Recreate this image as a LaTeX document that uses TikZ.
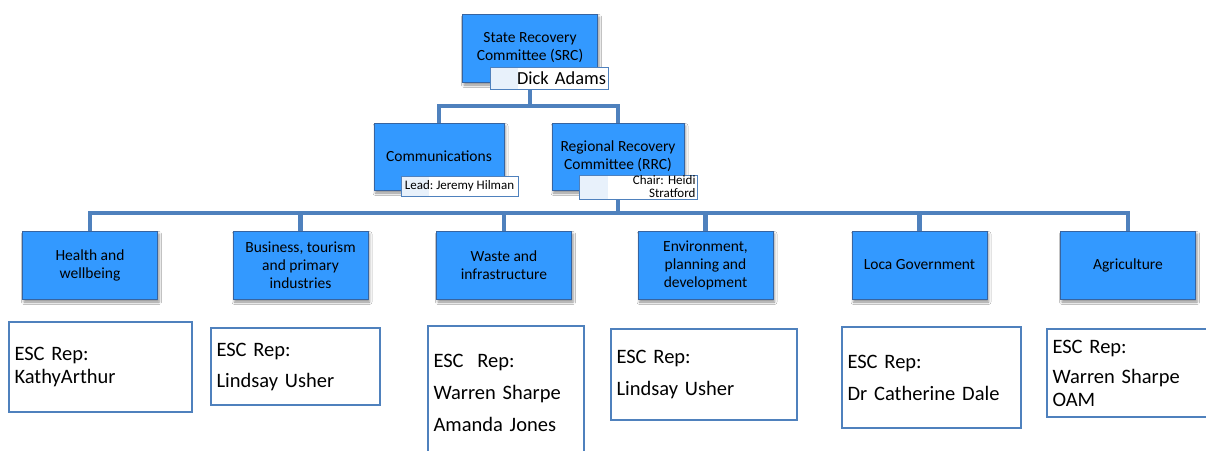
\documentclass[tikz,border=0pt]{standalone}
\usepackage{fontspec}
\setmainfont{Carlito}
\usepackage{tikz}
\usetikzlibrary{shadows.blur}
\usetikzlibrary{backgrounds}
\definecolor{boxblue}{RGB}{51,153,255}
\definecolor{edgeblue}{RGB}{55,100,160}
\definecolor{linkblue}{RGB}{79,129,189}
\definecolor{tintblue}{RGB}{232,241,251}
\tikzset{
    group/.style={rectangle, fill=boxblue, draw=edgeblue, line width=0.8pt,
        minimum width=135pt, minimum height=68pt, align=center,
        font=\fontsize{15.5}{18}\selectfont,
        blur shadow={shadow xshift=1.5pt, shadow yshift=-3pt, shadow blur radius=2.5pt, shadow opacity=45}},
    lead/.style={rectangle, draw=linkblue, line width=0.8pt, fill=white,
        path picture={\fill[tintblue] (path picture bounding box.south west) rectangle ([xshift=28pt]path picture bounding box.north west);},
        inner ysep=0pt, inner xsep=2pt},
    rep/.style={rectangle, draw=linkblue, line width=1.5pt, inner xsep=5.5pt, inner ysep=0pt,
        align=left, font=\fontsize{20.5}{23}\selectfont},
    link/.style={draw=linkblue, line width=4.5pt}}

\begin{document}
\frenchspacing
\begin{tikzpicture}[x=1pt, y=-1pt]

            \useasboundingbox (0,0) rectangle (1206,450);
            \clip (0,0) rectangle (1206,450);

            \node[group] (src) at (530,48) {State Recovery\\Committee (SRC)};
            \node[lead, minimum height=22pt, text width=114pt, align=right, font=\fontsize{18.4}{20}\selectfont] (srclead) at (549,78) {Dick Adams};

            \node[group, minimum width=130pt, minimum height=67pt] (comms) at (439,156.5) {Communications};
            \node[lead, minimum height=20pt, minimum width=117pt, inner xsep=1pt, font=\fontsize{13}{15}\selectfont] (commslead) at (459.5,186) {Lead: Jeremy Hilman};
            \node[group, minimum width=132pt, minimum height=67pt] (rrc) at (618,156.5) {Regional Recovery\\Committee (RRC)};
            \node[lead, minimum height=24pt, text width=114pt, align=right, font=\fontsize{13}{13}\selectfont] (rrclead) at (638.5,187) {Chair: Heidi\\Stratford};

            \coordinate (srchub) at (530,106);
            \coordinate (rrchub) at (618,213);

            \node[group] (health) at (90,265) {Health and\\wellbeing};
            \node[group] (business) at (300.5,265) {Business, tourism\\and primary\\industries};
            \node[group] (waste) at (504,265) {Waste and\\infrastructure};
            \node[group] (environ) at (705.5,265) {Environment,\\planning and\\development};
            \node[group] (localgov) at (919.5,265) {Loca Government};
            \node[group] (agri) at (1128,265) {Agriculture};

            \node[rep, text width=172pt, minimum height=90pt] (healthrep) at (100.5,367) {ESC Rep:\\KathyArthur};
            \node[rep, text width=158pt, minimum height=77pt] (businessrep) at (295.5,366.5) {ESC Rep:\\[8pt]Lindsay Usher};
            \node[rep, text width=145pt, minimum height=134pt] (wasterep) at (506,393) {ESC\ \ Rep:\\[9pt]Warren Sharpe\\[9pt]Amanda Jones};
            \node[rep, text width=175pt, minimum height=91pt] (environrep) at (704,374.5) {ESC Rep:\\[9pt]Lindsay Usher};
            \node[rep, text width=168pt, minimum height=101pt] (localgovrep) at (931.5,377.5) {ESC Rep:\\[9pt]Dr Catherine Dale};
            \node[rep, text width=157pt, minimum height=88pt] (agrirep) at (1131,373) {ESC Rep:\\[7pt]Warren Sharpe\\OAM};

            \begin{pgfonlayer}{background}
                \fill[white] (0,0) rectangle (1206,450);
                \draw[link] (src.south) -- (srchub) -| (comms.north);
                \draw[link] (srchub) -| (rrc.north);
                \draw[link] (rrc.south) -- (rrchub);
                \foreach \n in {health, business, waste, environ, localgov, agri}
                    \draw[link] (rrchub) -| (\n.north);
            \end{pgfonlayer}

        \end{tikzpicture}
\end{document}
